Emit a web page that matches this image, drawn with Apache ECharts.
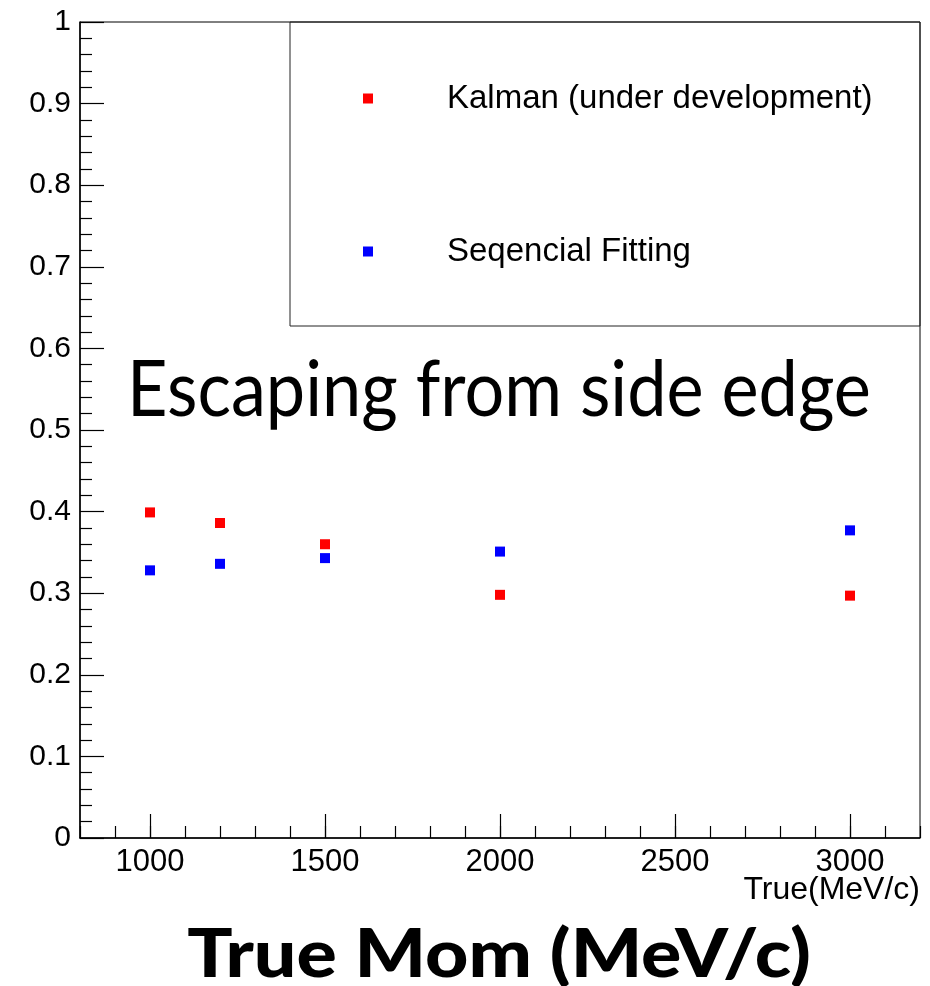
<!DOCTYPE html>
<html>
<head>
<meta charset="utf-8">
<script src="https://cdn.jsdelivr.net/npm/echarts@6/dist/echarts.min.js"></script>
<style>
  html, body { margin: 0; padding: 0; background: #fff; }
  #chart { width: 930px; height: 986px; }
</style>
</head>
<body>
<div id="chart"></div>
<script>
// True momentum of the generated tracks (MeV/c)
const momenta = [1000, 1200, 1500, 2000, 3000];
// Fraction per momentum point, one array per fitter
const kalman = [0.399, 0.386, 0.360, 0.298, 0.297];
const seqFit = [0.328, 0.336, 0.343, 0.351, 0.377];
const seriesNames = ['Kalman (under development)', 'Seqencial Fitting'];
// Labelled ticks on the momentum axis
const xMajorTicks = [1000, 1500, 2000, 2500, 3000];

const tickFont = 'Liberation Sans, Helvetica, Arial, sans-serif';
const chart = echarts.init(document.getElementById('chart'), null, { renderer: 'canvas' });

chart.setOption({
  backgroundColor: '#fff',
  animation: false,
  grid: {
    left: 80, right: 10, top: 22, bottom: 148,
    show: true, borderColor: '#000', borderWidth: 1, backgroundColor: 'transparent'
  },
  xAxis: [
    {
      // minor ticks every 100 MeV/c
      type: 'value', min: 800, max: 3200, interval: 100,
      axisLine: { show: true, onZero: false, lineStyle: { color: '#000', width: 1.5 } },
      axisTick: { show: true, inside: true, length: 12, lineStyle: { color: '#000', width: 1.2 } },
      axisLabel: { show: false },
      splitLine: { show: false }
    },
    {
      // major ticks and labels
      type: 'value', min: 800, max: 3200, position: 'bottom',
      axisLine: { show: false },
      axisTick: { show: true, inside: true, length: 24, customValues: xMajorTicks,
                  lineStyle: { color: '#000', width: 1.2 } },
      axisLabel: { show: true, customValues: xMajorTicks, fontSize: 31, margin: 9,
                   color: '#000', fontFamily: tickFont, formatter: v => String(v) },
      splitLine: { show: false }
    }
  ],
  yAxis: {
    type: 'value', min: 0, max: 1, interval: 0.1,
    axisLine: { show: true, onZero: false, lineStyle: { color: '#000', width: 1.5 } },
    axisTick: { show: true, inside: true, length: 24, lineStyle: { color: '#000', width: 1.2 } },
    minorTick: { show: true, splitNumber: 5, length: 12, lineStyle: { color: '#000', width: 1.2 } },
    axisLabel: { fontSize: 30, margin: 9, color: '#000', fontFamily: tickFont },
    splitLine: { show: false }
  },
  legend: {
    orient: 'vertical',
    left: 358, top: 77,
    icon: 'rect', itemWidth: 10, itemHeight: 10,
    itemGap: 120,
    selectedMode: false,
    textStyle: { fontSize: 33, color: '#000', fontFamily: tickFont, padding: [0, 0, 0, 69] },
    data: seriesNames
  },
  series: [
    {
      name: seriesNames[0], type: 'scatter', xAxisIndex: 0,
      symbol: 'rect', symbolSize: 10,
      itemStyle: { color: '#ff0000', opacity: 1 },
      data: momenta.map((m, i) => [m, kalman[i]])
    },
    {
      name: seriesNames[1], type: 'scatter', xAxisIndex: 0,
      symbol: 'rect', symbolSize: 10,
      itemStyle: { color: '#0000ff', opacity: 1 },
      data: momenta.map((m, i) => [m, seqFit[i]])
    }
  ],
  graphic: [
    {
      type: 'rect', silent: true,
      shape: { x: 290, y: 22, width: 630, height: 304 },
      style: { fill: 'none', stroke: '#222', lineWidth: 1 }
    },
    {
      type: 'text', x: 499, y: 391, scaleX: 0.9,
      style: { text: 'Escaping from side edge', fontSize: 78, fontFamily: 'Lato, sans-serif',
               textAlign: 'center', textVerticalAlign: 'middle', fill: '#000' }
    },
    {
      type: 'text', x: 920, y: 874,
      style: { text: 'True(MeV/c)', fontSize: 32, fontFamily: tickFont, fill: '#000',
               textAlign: 'right', textVerticalAlign: 'top' }
    },
    {
      type: 'text', x: 499, y: 956, scaleX: 1.14,
      style: { text: 'True Mom (MeV/c)', fontSize: 66, fontWeight: 900,
               fontFamily: 'Lato, sans-serif', textAlign: 'center', textVerticalAlign: 'middle',
               fill: '#000' }
    }
  ]
});
</script>
</body>
</html>
